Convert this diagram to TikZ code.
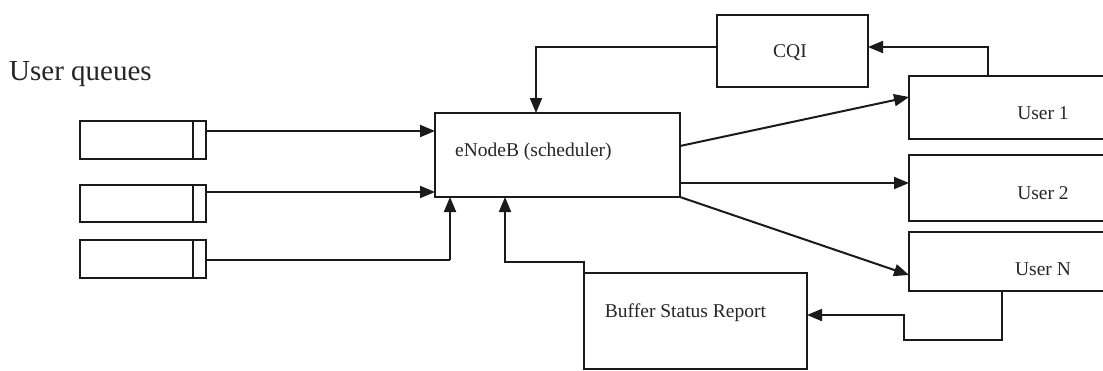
\documentclass[tikz,border=0pt]{standalone}
\usepackage{fontspec}
\setmainfont{Liberation Serif}
\usetikzlibrary{arrows.meta,calc}
\definecolor{ink}{HTML}{1A1A1A}
\definecolor{txt}{HTML}{262626}
\tikzset{
  box/.style={draw=ink, line width=1.9pt, inner sep=0pt, outer sep=0pt, fill=white},
  lbl/.style={text=txt, font=\fontsize{19.5}{22}\selectfont, inner sep=0pt},
  conn/.style={draw=ink, line width=2pt},
  arr/.style={conn, -{Triangle[length=15pt,width=12pt]}},
}
\begin{document}
\begin{tikzpicture}[x=1pt,y=-1pt]
\useasboundingbox (0,0) rectangle (1103,370);
\clip (0,0) rectangle (1103,370);
\fill[white] (0,0) rectangle (1103,370);

% heading
\node[lbl, anchor=base west, font=\fontsize{29}{32}\selectfont] (title) at (9,80) {User queues};

% queues
\node[box, minimum width=126pt, minimum height=38pt] (q1) at (143,140) {};
\node[box, minimum width=126pt, minimum height=37pt] (q2) at (143,203.5) {};
\node[box, minimum width=126pt, minimum height=38pt] (q3) at (143,259) {};
\foreach \q in {q1,q2,q3}
  \draw[ink, line width=1.9pt] ([xshift=-13pt]\q.north east) -- ([xshift=-13pt]\q.south east);

% scheduler
\node[box, minimum width=245pt, minimum height=84pt] (enb) at (557.5,155) {};
\node[lbl, anchor=west] (enbt) at (455,152) {eNodeB (scheduler)};

% CQI
\node[box, minimum width=151pt, minimum height=72pt] (cqi) at (792.5,51) {};
\node[lbl] (cqit) at (790,53) {CQI};

% users
\node[box, minimum width=230pt, minimum height=63pt, anchor=west] (u1) at (909,107.5) {};
\node[box, minimum width=230pt, minimum height=66pt, anchor=west] (u2) at (909,188) {};
\node[box, minimum width=230pt, minimum height=59pt, anchor=west] (uN) at (909,261.5) {};
\node[lbl] (u1t) at (1043,113) {User 1};
\node[lbl] (u2t) at (1043,193) {User 2};
\node[lbl] (uNt) at (1043,269) {User N};

% buffer status report
\node[box, minimum width=223pt, minimum height=96pt] (bsr) at (695.5,321) {};
\node[lbl] (bsrt) at (685.5,313) {Buffer Status Report};

% queues to scheduler
\draw[arr] ([yshift=9pt]q1.east) -- ([yshift=9pt]q1.east -| enb.west);
\draw[arr] ([yshift=11.5pt]q2.east) -- ([yshift=11.5pt]q2.east -| enb.west);
\coordinate (k3) at (450,260);
\draw[conn] (k3 -| q3.east) -- (k3);
\draw[arr] (k3) -- (k3 |- enb.south);

% scheduler to users
\draw[arr] ([yshift=9pt]enb.east) -- ([yshift=10.5pt]u1.west);
\draw[arr] ([yshift=-28pt]enb.east) -- ([yshift=5pt]u2.west);
\draw[arr] (enb.south east) -- ([yshift=-13.5pt]uN.west);

% CQI feedback
\coordinate (c1) at (988,47);
\draw[arr] (c1 |- u1.north) -- (c1) -- (c1 -| cqi.east);
\coordinate (c2) at (536,47);
\draw[arr] (c2 -| cqi.west) -- (c2) -- (c2 |- enb.north);

% buffer status feedback
\coordinate (b1) at (505,262);
\draw[arr] (bsr.north west) -- (b1 -| bsr.west) -- (b1) -- (b1 |- enb.south);
\coordinate (n1) at (1002,340);
\coordinate (n2) at (904,315);
\draw[arr] (n1 |- uN.south) -- (n1) -- (n1 -| n2) -- (n2) -- (n2 -| bsr.east);
\end{tikzpicture}
\end{document}
